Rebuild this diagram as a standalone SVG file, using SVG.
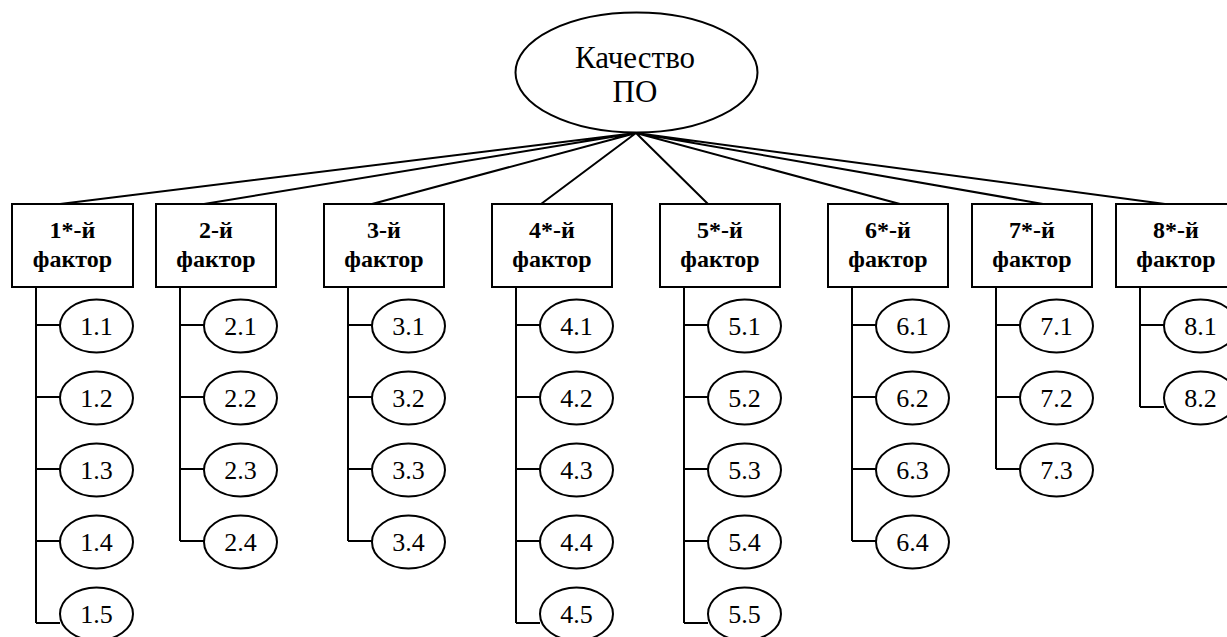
<svg xmlns="http://www.w3.org/2000/svg" width="1227" height="637" viewBox="0 0 1227 637">
<rect width="1227" height="637" fill="#fff"/>
<g id="connectors" fill="none" stroke="#000" stroke-width="2">
<path d="M636 133L60 204M636 133L204 204M636 133L372 204M636 133L541 204M636 133L708 204M636 133L900 204M636 133L1043 204M636 133L1165 204"/>
<path d="M36 287V623M36 325H60M36 397H60M36 469H60M36 541H60M36 623H60"/>
<path d="M180 287V541M180 325H204M180 397H204M180 469H204M180 541H204"/>
<path d="M348 287V541M348 325H372M348 397H372M348 469H372M348 541H372"/>
<path d="M516 287V623M516 325H540M516 397H540M516 469H540M516 541H540M516 623H540"/>
<path d="M684 287V623M684 325H708M684 397H708M684 469H708M684 541H708M684 623H708"/>
<path d="M852 287V541M852 325H876M852 397H876M852 469H876M852 541H876"/>
<path d="M996 287V469M996 325H1020M996 397H1020M996 469H1020"/>
<path d="M1140 287V407M1140 325H1164M1140 407H1164"/>
</g>
<g id="root">
<ellipse cx="636.5" cy="72.5" rx="121" ry="60" fill="#fff" stroke="#000" stroke-width="2"/>
<text x="635" y="68" font-size="31" font-family="Liberation Serif" text-anchor="middle">Качество</text>
<text x="635" y="102" font-size="31" font-family="Liberation Serif" text-anchor="middle">ПО</text>
</g>
<g id="f1"><rect x="12" y="204" width="121" height="83" fill="#fff" stroke="#000" stroke-width="2"/><text x="72.5" y="238" font-size="24" font-weight="bold" font-family="Liberation Serif" text-anchor="middle">1*-й</text><text x="72.5" y="267" font-size="24" font-weight="bold" font-family="Liberation Serif" text-anchor="middle">фактор</text></g>
<g id="f2"><rect x="156" y="204" width="120" height="83" fill="#fff" stroke="#000" stroke-width="2"/><text x="216" y="238" font-size="24" font-weight="bold" font-family="Liberation Serif" text-anchor="middle">2-й</text><text x="216" y="267" font-size="24" font-weight="bold" font-family="Liberation Serif" text-anchor="middle">фактор</text></g>
<g id="f3"><rect x="324" y="204" width="120" height="83" fill="#fff" stroke="#000" stroke-width="2"/><text x="384" y="238" font-size="24" font-weight="bold" font-family="Liberation Serif" text-anchor="middle">3-й</text><text x="384" y="267" font-size="24" font-weight="bold" font-family="Liberation Serif" text-anchor="middle">фактор</text></g>
<g id="f4"><rect x="492" y="204" width="120" height="83" fill="#fff" stroke="#000" stroke-width="2"/><text x="552" y="238" font-size="24" font-weight="bold" font-family="Liberation Serif" text-anchor="middle">4*-й</text><text x="552" y="267" font-size="24" font-weight="bold" font-family="Liberation Serif" text-anchor="middle">фактор</text></g>
<g id="f5"><rect x="660" y="204" width="120" height="83" fill="#fff" stroke="#000" stroke-width="2"/><text x="720" y="238" font-size="24" font-weight="bold" font-family="Liberation Serif" text-anchor="middle">5*-й</text><text x="720" y="267" font-size="24" font-weight="bold" font-family="Liberation Serif" text-anchor="middle">фактор</text></g>
<g id="f6"><rect x="828" y="204" width="120" height="83" fill="#fff" stroke="#000" stroke-width="2"/><text x="888" y="238" font-size="24" font-weight="bold" font-family="Liberation Serif" text-anchor="middle">6*-й</text><text x="888" y="267" font-size="24" font-weight="bold" font-family="Liberation Serif" text-anchor="middle">фактор</text></g>
<g id="f7"><rect x="972" y="204" width="120" height="83" fill="#fff" stroke="#000" stroke-width="2"/><text x="1032" y="238" font-size="24" font-weight="bold" font-family="Liberation Serif" text-anchor="middle">7*-й</text><text x="1032" y="267" font-size="24" font-weight="bold" font-family="Liberation Serif" text-anchor="middle">фактор</text></g>
<g id="f8"><rect x="1116" y="204" width="120" height="83" fill="#fff" stroke="#000" stroke-width="2"/><text x="1176" y="238" font-size="24" font-weight="bold" font-family="Liberation Serif" text-anchor="middle">8*-й</text><text x="1176" y="267" font-size="24" font-weight="bold" font-family="Liberation Serif" text-anchor="middle">фактор</text></g>
<g id="n1-1"><ellipse cx="96.5" cy="326" rx="36.5" ry="26.5" fill="#fff" stroke="#000" stroke-width="2"/><text x="96.5" y="335" font-size="26" font-family="Liberation Serif" text-anchor="middle">1.1</text></g>
<g id="n1-2"><ellipse cx="96.5" cy="398" rx="36.5" ry="26.5" fill="#fff" stroke="#000" stroke-width="2"/><text x="96.5" y="407" font-size="26" font-family="Liberation Serif" text-anchor="middle">1.2</text></g>
<g id="n1-3"><ellipse cx="96.5" cy="470" rx="36.5" ry="26.5" fill="#fff" stroke="#000" stroke-width="2"/><text x="96.5" y="479" font-size="26" font-family="Liberation Serif" text-anchor="middle">1.3</text></g>
<g id="n1-4"><ellipse cx="96.5" cy="542" rx="36.5" ry="26.5" fill="#fff" stroke="#000" stroke-width="2"/><text x="96.5" y="551" font-size="26" font-family="Liberation Serif" text-anchor="middle">1.4</text></g>
<g id="n1-5"><ellipse cx="96.5" cy="614" rx="36.5" ry="26.5" fill="#fff" stroke="#000" stroke-width="2"/><text x="96.5" y="623" font-size="26" font-family="Liberation Serif" text-anchor="middle">1.5</text></g>
<g id="n2-1"><ellipse cx="240.5" cy="326" rx="36.5" ry="26.5" fill="#fff" stroke="#000" stroke-width="2"/><text x="240.5" y="335" font-size="26" font-family="Liberation Serif" text-anchor="middle">2.1</text></g>
<g id="n2-2"><ellipse cx="240.5" cy="398" rx="36.5" ry="26.5" fill="#fff" stroke="#000" stroke-width="2"/><text x="240.5" y="407" font-size="26" font-family="Liberation Serif" text-anchor="middle">2.2</text></g>
<g id="n2-3"><ellipse cx="240.5" cy="470" rx="36.5" ry="26.5" fill="#fff" stroke="#000" stroke-width="2"/><text x="240.5" y="479" font-size="26" font-family="Liberation Serif" text-anchor="middle">2.3</text></g>
<g id="n2-4"><ellipse cx="240.5" cy="542" rx="36.5" ry="26.5" fill="#fff" stroke="#000" stroke-width="2"/><text x="240.5" y="551" font-size="26" font-family="Liberation Serif" text-anchor="middle">2.4</text></g>
<g id="n3-1"><ellipse cx="408.5" cy="326" rx="36.5" ry="26.5" fill="#fff" stroke="#000" stroke-width="2"/><text x="408.5" y="335" font-size="26" font-family="Liberation Serif" text-anchor="middle">3.1</text></g>
<g id="n3-2"><ellipse cx="408.5" cy="398" rx="36.5" ry="26.5" fill="#fff" stroke="#000" stroke-width="2"/><text x="408.5" y="407" font-size="26" font-family="Liberation Serif" text-anchor="middle">3.2</text></g>
<g id="n3-3"><ellipse cx="408.5" cy="470" rx="36.5" ry="26.5" fill="#fff" stroke="#000" stroke-width="2"/><text x="408.5" y="479" font-size="26" font-family="Liberation Serif" text-anchor="middle">3.3</text></g>
<g id="n3-4"><ellipse cx="408.5" cy="542" rx="36.5" ry="26.5" fill="#fff" stroke="#000" stroke-width="2"/><text x="408.5" y="551" font-size="26" font-family="Liberation Serif" text-anchor="middle">3.4</text></g>
<g id="n4-1"><ellipse cx="576.5" cy="326" rx="36.5" ry="26.5" fill="#fff" stroke="#000" stroke-width="2"/><text x="576.5" y="335" font-size="26" font-family="Liberation Serif" text-anchor="middle">4.1</text></g>
<g id="n4-2"><ellipse cx="576.5" cy="398" rx="36.5" ry="26.5" fill="#fff" stroke="#000" stroke-width="2"/><text x="576.5" y="407" font-size="26" font-family="Liberation Serif" text-anchor="middle">4.2</text></g>
<g id="n4-3"><ellipse cx="576.5" cy="470" rx="36.5" ry="26.5" fill="#fff" stroke="#000" stroke-width="2"/><text x="576.5" y="479" font-size="26" font-family="Liberation Serif" text-anchor="middle">4.3</text></g>
<g id="n4-4"><ellipse cx="576.5" cy="542" rx="36.5" ry="26.5" fill="#fff" stroke="#000" stroke-width="2"/><text x="576.5" y="551" font-size="26" font-family="Liberation Serif" text-anchor="middle">4.4</text></g>
<g id="n4-5"><ellipse cx="576.5" cy="614" rx="36.5" ry="26.5" fill="#fff" stroke="#000" stroke-width="2"/><text x="576.5" y="623" font-size="26" font-family="Liberation Serif" text-anchor="middle">4.5</text></g>
<g id="n5-1"><ellipse cx="744.5" cy="326" rx="36.5" ry="26.5" fill="#fff" stroke="#000" stroke-width="2"/><text x="744.5" y="335" font-size="26" font-family="Liberation Serif" text-anchor="middle">5.1</text></g>
<g id="n5-2"><ellipse cx="744.5" cy="398" rx="36.5" ry="26.5" fill="#fff" stroke="#000" stroke-width="2"/><text x="744.5" y="407" font-size="26" font-family="Liberation Serif" text-anchor="middle">5.2</text></g>
<g id="n5-3"><ellipse cx="744.5" cy="470" rx="36.5" ry="26.5" fill="#fff" stroke="#000" stroke-width="2"/><text x="744.5" y="479" font-size="26" font-family="Liberation Serif" text-anchor="middle">5.3</text></g>
<g id="n5-4"><ellipse cx="744.5" cy="542" rx="36.5" ry="26.5" fill="#fff" stroke="#000" stroke-width="2"/><text x="744.5" y="551" font-size="26" font-family="Liberation Serif" text-anchor="middle">5.4</text></g>
<g id="n5-5"><ellipse cx="744.5" cy="614" rx="36.5" ry="26.5" fill="#fff" stroke="#000" stroke-width="2"/><text x="744.5" y="623" font-size="26" font-family="Liberation Serif" text-anchor="middle">5.5</text></g>
<g id="n6-1"><ellipse cx="912.5" cy="326" rx="36.5" ry="26.5" fill="#fff" stroke="#000" stroke-width="2"/><text x="912.5" y="335" font-size="26" font-family="Liberation Serif" text-anchor="middle">6.1</text></g>
<g id="n6-2"><ellipse cx="912.5" cy="398" rx="36.5" ry="26.5" fill="#fff" stroke="#000" stroke-width="2"/><text x="912.5" y="407" font-size="26" font-family="Liberation Serif" text-anchor="middle">6.2</text></g>
<g id="n6-3"><ellipse cx="912.5" cy="470" rx="36.5" ry="26.5" fill="#fff" stroke="#000" stroke-width="2"/><text x="912.5" y="479" font-size="26" font-family="Liberation Serif" text-anchor="middle">6.3</text></g>
<g id="n6-4"><ellipse cx="912.5" cy="542" rx="36.5" ry="26.5" fill="#fff" stroke="#000" stroke-width="2"/><text x="912.5" y="551" font-size="26" font-family="Liberation Serif" text-anchor="middle">6.4</text></g>
<g id="n7-1"><ellipse cx="1056.5" cy="326" rx="36.5" ry="26.5" fill="#fff" stroke="#000" stroke-width="2"/><text x="1056.5" y="335" font-size="26" font-family="Liberation Serif" text-anchor="middle">7.1</text></g>
<g id="n7-2"><ellipse cx="1056.5" cy="398" rx="36.5" ry="26.5" fill="#fff" stroke="#000" stroke-width="2"/><text x="1056.5" y="407" font-size="26" font-family="Liberation Serif" text-anchor="middle">7.2</text></g>
<g id="n7-3"><ellipse cx="1056.5" cy="470" rx="36.5" ry="26.5" fill="#fff" stroke="#000" stroke-width="2"/><text x="1056.5" y="479" font-size="26" font-family="Liberation Serif" text-anchor="middle">7.3</text></g>
<g id="n8-1"><ellipse cx="1200.5" cy="326" rx="36.5" ry="26.5" fill="#fff" stroke="#000" stroke-width="2"/><text x="1200.5" y="335" font-size="26" font-family="Liberation Serif" text-anchor="middle">8.1</text></g>
<g id="n8-2"><ellipse cx="1200.5" cy="398" rx="36.5" ry="26.5" fill="#fff" stroke="#000" stroke-width="2"/><text x="1200.5" y="407" font-size="26" font-family="Liberation Serif" text-anchor="middle">8.2</text></g>
</svg>
